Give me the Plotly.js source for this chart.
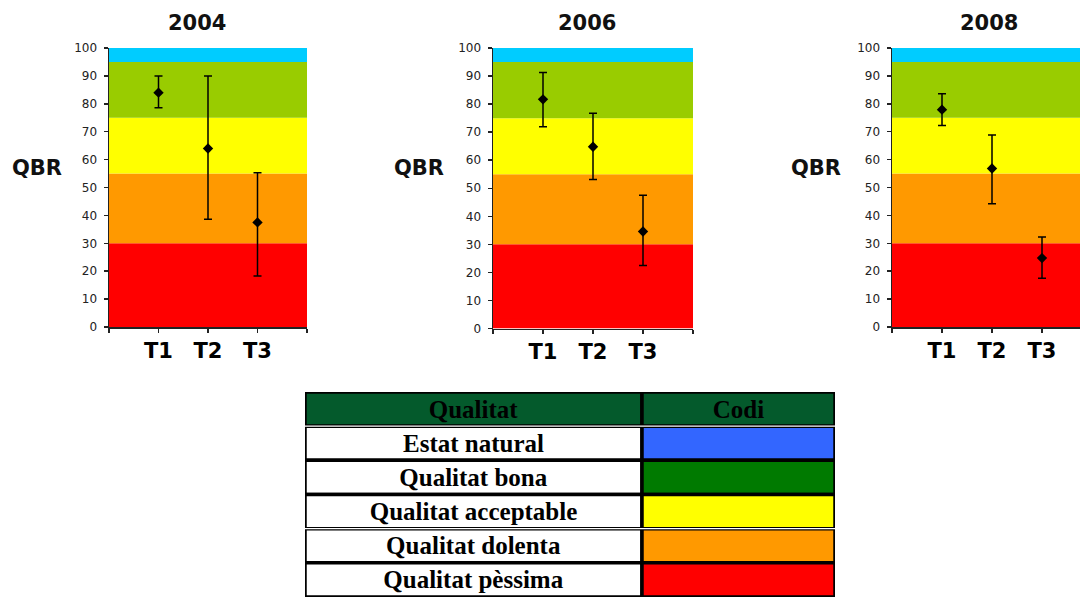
<!DOCTYPE html>
<html>
<head>
<meta charset="utf-8">
<script src="https://cdn.plot.ly/plotly-3.0.1.min.js"></script>
<style>html,body{margin:0;padding:0;background:#fff;}#chart{width:1080px;height:597px;}</style>
</head>
<body>
<div id="chart"></div>
<script>
// ---- data ----
const years = ['2004', '2006', '2008'];
const categories = ['T1', 'T2', 'T3'];
const qbr2004 = [84, 64, 37.5];
const high2004 = [90, 90, 55.3];
const low2004 = [78.6, 38.6, 18.3];
const qbr2006 = [81.7, 64.8, 34.6];
const high2006 = [91.3, 76.7, 47.5];
const low2006 = [71.9, 53.1, 22.5];
const qbr2008 = [77.9, 56.8, 24.7];
const high2008 = [83.6, 68.8, 32.3];
const low2008 = [72.2, 44.2, 17.5];
const bandEdges = [0, 30, 55, 75, 95, 100];
const bandColors = ['#ff0000', '#ff9900', '#ffff00', '#99cc00', '#00ccff'];
const tableHeaders = ['Qualitat', 'Codi'];
const qualityLabels = ['Estat natural', 'Qualitat bona', 'Qualitat acceptable', 'Qualitat dolenta', 'Qualitat pèssima'];
const codeColors = ['#3366ff', '#007a00', '#ffff00', '#ff9900', '#ff0000'];
const yTicks = [0, 10, 20, 30, 40, 50, 60, 70, 80, 90, 100];

// ---- layout geometry ----
const W = 1080, H = 597;
const panels = [
  {mid: qbr2004, hi: high2004, lo: low2004, x0: 109, x1: 307, yt: 48, yb: 327, xmax: 4, titleX: 197, qbrX: 37},
  {mid: qbr2006, hi: high2006, lo: low2006, x0: 493, x1: 693, yt: 48, yb: 328.5, xmax: 4, titleX: 587, qbrX: 419},
  {mid: qbr2008, hi: high2008, lo: low2008, x0: 892, x1: 1080, yt: 48, yb: 327, xmax: 3.76, titleX: 989, qbrX: 816}
];
const headerGreen = '#045a2c';
const colWidths = [337, 193];

const xpos = categories.map((c, i) => i + 1);
const traces = [];
const shapes = [];
const annotations = [];
const layout = {
  width: W, height: H,
  margin: {l: 0, r: 0, t: 0, b: 0},
  paper_bgcolor: '#ffffff',
  plot_bgcolor: 'rgba(0,0,0,0)',
  showlegend: false,
  bargap: 0,
  barmode: 'overlay',
  font: {family: 'DejaVu Sans', color: '#000'}
};

panels.forEach((p, k) => {
  const n = k === 0 ? '' : String(k + 1);
  const xa = 'x' + n, ya = 'y' + n;
  traces.push({
    type: 'scatter', mode: 'markers',
    x: xpos, y: p.mid, xaxis: xa, yaxis: ya,
    marker: {symbol: 'diamond', size: 8, color: '#000'},
    error_y: {
      type: 'data', symmetric: false,
      array: p.hi.map((v, i) => v - p.mid[i]),
      arrayminus: p.mid.map((v, i) => v - p.lo[i]),
      color: '#000', thickness: 1.5, width: 4
    },
    hoverinfo: 'x+y'
  });
  layout['xaxis' + n] = {
    domain: [p.x0 / W, p.x1 / W], anchor: ya,
    range: [0, p.xmax], fixedrange: true,
    tickvals: [0].concat(xpos, [4]),
    ticktext: [''].concat(categories, ['']),
    ticks: 'outside', ticklen: 4, tickcolor: '#222', tickwidth: 1.5,
    showline: true, linecolor: '#222', linewidth: 1.5,
    showgrid: false, zeroline: false,
    tickfont: {family: 'DejaVu Sans', size: 21, color: '#000', weight: 'bold'}
  };
  layout['yaxis' + n] = {
    domain: [(H - p.yb) / H, (H - p.yt) / H], anchor: xa,
    range: [0, 100], fixedrange: true,
    tickvals: yTicks,
    ticks: 'outside', ticklen: 4, tickcolor: '#222', tickwidth: 1.5,
    ticklabelstandoff: 4,
    showline: true, linecolor: '#222', linewidth: 1.5,
    showgrid: false, zeroline: false,
    tickfont: {family: 'DejaVu Sans', size: 12, color: '#222'}
  };
  bandColors.forEach((c, b) => {
    shapes.push({
      type: 'rect', layer: 'below',
      xref: xa + ' domain', yref: ya,
      x0: 0, x1: 1, y0: bandEdges[b], y1: bandEdges[b + 1],
      fillcolor: c, line: {width: 0}
    });
  });
  annotations.push({
    text: years[k], xref: 'paper', yref: 'paper',
    x: p.titleX / W, y: (H - 23) / H, xanchor: 'center', yanchor: 'middle',
    showarrow: false, font: {family: 'DejaVu Sans', size: 21, color: '#111', weight: 'bold'}
  });
  annotations.push({
    text: 'QBR', xref: 'paper', yref: 'paper',
    x: p.qbrX / W, y: (H - 168) / H, xanchor: 'center', yanchor: 'middle',
    showarrow: false, font: {family: 'DejaVu Sans', size: 21, color: '#111', weight: 'bold'}
  });
});

// ---- legend table drawn as a grid of bars ----
const rowIdx = [0].concat(qualityLabels.map((l, i) => i + 1));
const tableFont = {family: 'Liberation Serif', size: 25, color: '#000'};
traces.push({
  type: 'bar', orientation: 'h', xaxis: 'x4', yaxis: 'y4',
  y: rowIdx, x: rowIdx.map(() => colWidths[0]), base: 0, width: 1,
  text: [tableHeaders[0]].concat(qualityLabels).map(t => '<b>' + t + '</b>'),
  textposition: 'inside', insidetextanchor: 'middle', constraintext: 'none',
  textfont: tableFont, insidetextfont: tableFont,
  marker: {color: [headerGreen].concat(qualityLabels.map(() => '#ffffff')), line: {color: '#000', width: 3.5}},
  cliponaxis: false, hoverinfo: 'skip'
});
traces.push({
  type: 'bar', orientation: 'h', xaxis: 'x4', yaxis: 'y4',
  y: rowIdx, x: rowIdx.map(() => colWidths[1]), base: colWidths[0], width: 1,
  text: ['<b>' + tableHeaders[1] + '</b>'].concat(qualityLabels.map(() => '')),
  textposition: 'inside', insidetextanchor: 'middle', constraintext: 'none',
  textfont: tableFont, insidetextfont: tableFont,
  marker: {color: [headerGreen].concat(codeColors), line: {color: '#000', width: 3.5}},
  cliponaxis: false, hoverinfo: 'skip'
});
// thin white separators giving the double rule under the header and under row 3
[0.5, 3.5].forEach(yb => {
  shapes.push({
    type: 'line', layer: 'above', xref: 'x4', yref: 'y4',
    x0: 0, x1: colWidths[0] + colWidths[1], y0: yb, y1: yb,
    line: {color: '#ffffff', width: 1.2}
  });
});
layout.xaxis4 = {
  domain: [305 / W, 835 / W], anchor: 'y4', range: [0, colWidths[0] + colWidths[1]],
  visible: false, fixedrange: true
};
layout.yaxis4 = {
  domain: [0, (H - 392) / H], anchor: 'x4', range: [5.5, -0.5],
  visible: false, fixedrange: true
};

layout.shapes = shapes;
layout.annotations = annotations;
Plotly.newPlot('chart', traces, layout, {displayModeBar: false, staticPlot: true});
</script>
</body>
</html>
